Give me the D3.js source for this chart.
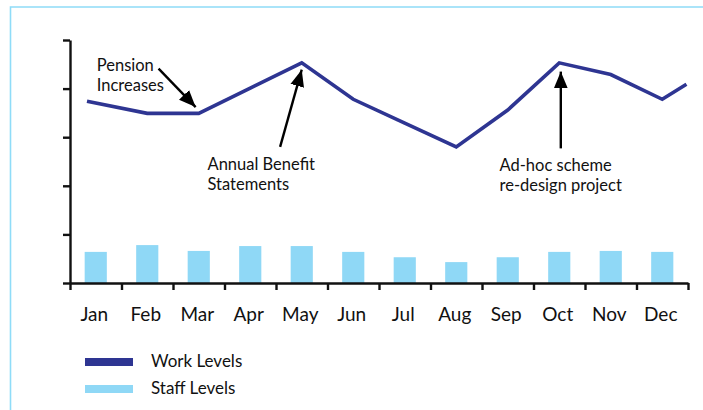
<!DOCTYPE html>
<html>
<head>
<meta charset="utf-8">
<script src="https://cdn.jsdelivr.net/npm/d3@7"></script>
<style>
  html, body { margin: 0; padding: 0; background: #fff; }
  svg { display: block; }
  text { font-family: Lato, "Open Sans", sans-serif; fill: #111; }
</style>
</head>
<body>
<svg id="chart" width="703" height="410"></svg>
<script>
// ---- Data ----
const months = ["Jan","Feb","Mar","Apr","May","Jun","Jul","Aug","Sep","Oct","Nov","Dec"];
const staffLevels = [0.64, 0.78, 0.66, 0.76, 0.76, 0.64, 0.53, 0.43, 0.53, 0.64, 0.66, 0.64];
// work level line: month position (index, fractional for the line's ends) and value
const workPos    = [-0.17, 1, 2, 3, 4, 5, 6, 7, 8, 9, 10, 11, 11.47];
const workLevels = [3.74, 3.49, 3.49, 4.01, 4.53, 3.78, 3.29, 2.80, 3.56, 4.53, 4.29, 3.78, 4.09];
const yTicks = [0, 1, 2, 3, 4, 5];
const annotations = [
  { lines: ["Pension", "Increases"], month: 2,  from: [-0.78, 4.41], to: [-0.06, 3.62] },
  { lines: ["Annual Benefit", "Statements"], month: 4, from: [-0.42, 2.8], to: [0, 4.39] },
  { lines: ["Ad-hoc scheme", "re-design project"], month: 9, from: [0.03, 2.77], to: [0.03, 4.35] }
];
const legendItems = [
  { label: "Work Levels", color: "#2e3592" },
  { label: "Staff Levels", color: "#8fd8f6" }
];

// ---- Layout ----
const svg = d3.select("#chart");
const x0 = 70, x1 = 688, yBase = 283, yTop = 40;

const x = d3.scaleBand().domain(months).range([x0, x1]).paddingInner(0.57).paddingOuter(0.285);
const xPos = d3.scaleLinear().domain([-0.5, 11.5]).range([x0, x1]); // month index -> center
const y = d3.scaleLinear().domain([0, 5]).range([yBase, yTop]);

// frame
svg.append("path")
  .attr("d", `M10.5,410 L10.5,7 L703,7`)
  .attr("fill", "none").attr("stroke", "#8fdcf8").attr("stroke-width", 1.6);

// bars
svg.append("g").selectAll("rect").data(staffLevels).join("rect")
  .attr("x", (d, i) => x(months[i]))
  .attr("width", x.bandwidth())
  .attr("y", d => y(d))
  .attr("height", d => yBase - y(d))
  .attr("fill", "#8fd8f6");

// y axis
const yAxis = svg.append("g").attr("transform", `translate(${x0},0)`)
  .call(d3.axisLeft(y).tickValues(yTicks).tickSize(7).tickSizeOuter(0).tickFormat(""));
yAxis.selectAll("path, line").attr("stroke", "#111").attr("stroke-width", 2.4);

// x axis: ticks on band boundaries
const bounds = d3.range(0, 13);
const xBound = d3.scaleLinear().domain([0, 12]).range([x0, x1]);
const xAxis = svg.append("g").attr("transform", `translate(0,${yBase})`)
  .call(d3.axisBottom(xBound).tickValues(bounds).tickSize(7).tickSizeOuter(0).tickFormat(""));
xAxis.selectAll("path, line").attr("stroke", "#111").attr("stroke-width", 2.4);

// month labels
svg.append("g").selectAll("text").data(months).join("text")
  .attr("x", (d) => x(d) + x.bandwidth() / 2 - 1.5)
  .attr("y", 321)
  .attr("text-anchor", "middle")
  .attr("font-size", 19)
  .text(d => d);

// work line
const line = d3.line().x((d, i) => xPos(workPos[i])).y(d => y(d));
svg.append("path").datum(workLevels)
  .attr("d", line)
  .attr("fill", "none")
  .attr("stroke", "#2e3592")
  .attr("stroke-width", 3.6)
  .attr("stroke-linejoin", "miter");

// arrow marker
const defs = svg.append("defs");
defs.append("marker")
  .attr("id", "arrow").attr("viewBox", "0 0 12 10")
  .attr("refX", 12).attr("refY", 5)
  .attr("markerWidth", 7).attr("markerHeight", 6)
  .attr("markerUnits", "strokeWidth")
  .attr("orient", "auto")
  .append("path").attr("d", "M0,0 L12,5 L0,10 z").attr("fill", "#000");

// annotations
const annG = svg.append("g");
annotations.forEach(a => {
  const fx = xPos(a.month + a.from[0]), fy = y(a.from[1]);
  const tx = xPos(a.month + a.to[0]), ty = y(a.to[1]);
  annG.append("line")
    .attr("x1", fx).attr("y1", fy).attr("x2", tx).attr("y2", ty)
    .attr("stroke", "#000").attr("stroke-width", 2.4)
    .attr("marker-end", "url(#arrow)");
});
const annTexts = [
  { xAt: -1.98, yAt: 4.37 },
  { xAt: -1.83, yAt: 2.32 },
  { xAt: -1.16, yAt: 2.3 }
];
annTexts.forEach((t, k) => {
  const a = annotations[k];
  const tx = annG.append("text")
    .attr("x", xPos(a.month + t.xAt))
    .attr("y", y(t.yAt))
    .attr("font-size", 16.5);
  a.lines.forEach((ln, j) => {
    tx.append("tspan").attr("x", xPos(a.month + t.xAt)).attr("dy", j === 0 ? 0 : 20).text(ln);
  });
});

// legend
const lg = svg.append("g");
legendItems.forEach((it, i) => {
  const yy = 362 + i * 27;
  lg.append("rect").attr("x", 85).attr("y", yy - 4).attr("width", 48).attr("height", 8).attr("fill", it.color);
  lg.append("text").attr("x", 151).attr("y", yy + 4.5).attr("font-size", 17).text(it.label);
});
</script>
</body>
</html>
